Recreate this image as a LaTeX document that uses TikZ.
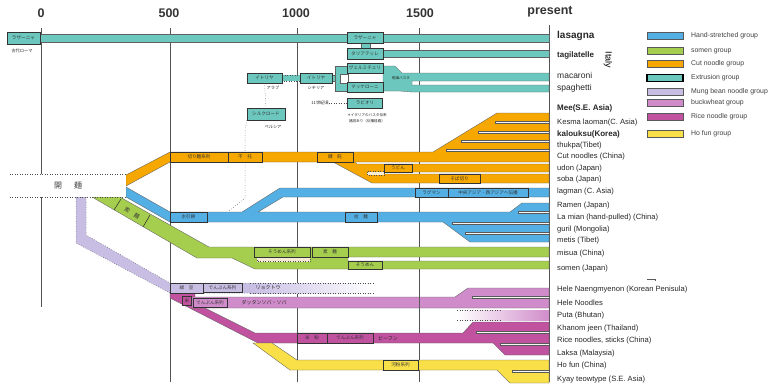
\documentclass[tikz,border=0pt]{standalone}
\usepackage{fontspec}
\setmainfont{Liberation Sans}
\newfontfamily\jp{Noto Sans CJK JP}
\definecolor{cteal}{RGB}{108,200,190}
\definecolor{cblue}{RGB}{84,176,228}
\definecolor{cgreen}{RGB}{166,206,78}
\definecolor{corange}{RGB}{246,168,0}
\definecolor{clav}{RGB}{200,190,228}
\definecolor{cbuck}{RGB}{208,140,202}
\definecolor{crice}{RGB}{192,82,160}
\definecolor{cyel}{RGB}{250,224,72}
\definecolor{cnotch}{RGB}{246,236,214}
\begin{document}
\begin{tikzpicture}[x=1pt,y=-1pt,
  bar/.style={draw=gray!75!black,line width=0.35pt},
  jb/.style={draw=gray!40!black,line width=0.4pt,inner sep=0pt,font=\jp\fontsize{4.6}{5}\selectfont,text=black!80},
  jt/.style={inner sep=0pt,font=\jp\fontsize{4.2}{4.6}\selectfont,text=gray!30!black},
  lab/.style={anchor=west,inner sep=0pt,font=\fontsize{7.6}{8}\selectfont,text=black!85},
  ax/.style={draw=gray!65!black,line width=0.9pt},
  axl/.style={font=\bfseries\fontsize{12.5}{13}\selectfont,inner sep=0pt,text=black!80},
  strip/.style={fill=white!93!gray,draw=gray!70!black,line width=0.3pt},
  dot/.style={draw=gray!60!black,dotted,line width=0.5pt},
  leg/.style={anchor=west,inner sep=0pt,font=\fontsize{6.9}{7}\selectfont,text=black!75},
  sw/.style={draw=gray!70!black,line width=0.5pt,minimum width=36pt,minimum height=7pt,inner sep=0pt},
]
\useasboundingbox (0,0) rectangle (775,384);
% axis
\node[axl] (a0) at (41,13) {0};
\node[axl] (a500) at (169,13) {500};
\node[axl] (a1000) at (296,13) {1000};
\node[axl] (a1500) at (420,13) {1500};
\node[axl] (apr) at (550,12) {present};
\draw[ax] (41,28) -- (41,307);
\draw[ax] (170,28) -- (170,382);
\draw[ax] (297,28) -- (297,382);
\draw[ax] (419,28) -- (419,382);
\draw[ax] (549,25) -- (549,382);

% ---------- extrusion (teal)
\draw[bar,fill=cteal] (40,34) rectangle (549,42);
\draw[bar,fill=cteal] (361,43) rectangle (370,48);
\draw[bar,fill=cteal] (383,50) rectangle (549,57);
\draw[dot,fill=cteal] (282,75) rectangle (300,81);
\draw[bar,fill=cteal] (332,75) rectangle (336,81);
\draw[bar,fill=cteal] (335,66) rectangle (348,91);
\draw[bar,fill=white] (340,74) rectangle (348,83);
\draw[bar,fill=cteal] (383,66) -- (395,66) -- (402,73) -- (549,73) -- (549,81) -- (412,81) -- (412,85) -- (549,85) -- (549,92) -- (412,92) -- (400,91) -- (383,91) -- cycle;
\node[jt,font=\jp\fontsize{3.6}{4}\selectfont] (kp) at (401,78) {乾燥パスタ};
\node[jb,fill=cteal,minimum width=33pt,minimum height=12pt] (lz0) at (23.5,38) {ラザーニャ};
\node[jt] (lzc) at (22,51) {古代ローマ};
\node[jb,fill=cteal,minimum width=36pt,minimum height=11pt] (lz1) at (365,37.5) {ラザーニャ};
\node[jb,fill=cteal,minimum width=36pt,minimum height=11pt] (tg) at (365,53.5) {タリアテッレ};
\node[jb,fill=cteal,minimum width=35pt,minimum height=10pt] (it1) at (264.5,78) {イトリヤ};
\node[jb,fill=cteal,minimum width=32pt,minimum height=10pt] (it2) at (316,78) {イトリヤ};
\node[jt] (it1c) at (273,88) {アラブ};
\node[jt] (it2c) at (316,88) {シチリア};
\node[jb,fill=cteal,minimum width=36pt,minimum height=10pt] (vm) at (365,68) {ヴェルミチェリ};
\node[jb,fill=cteal,minimum width=36pt,minimum height=10pt] (mc) at (365,87) {マッケローニ};
\node[jb,fill=cteal,minimum width=35pt,minimum height=10pt] (rv) at (365,103) {ラビオリ};
\node[jt] (c11) at (320,103) {11世紀頃};
\draw[dot] (c11.east) -- (rv.west);
\node[jt,font=\jp\fontsize{3.6}{4}\selectfont] (rvc1) at (367,115) {＊イタリアのパスタ伝来};
\node[jt,font=\jp\fontsize{3.6}{4}\selectfont] (rvc2) at (367,121) {諸説あり（伝播経路）};
\node[jb,fill=cteal,minimum width=38pt,minimum height=12pt] (sr) at (266,114) {シルクロード};
\node[jt] (src) at (273,127) {ペルシア};
\draw[dot] (it1.south) -- (sr.north);
\coordinate (d1) at (245,130);
\coordinate (d2) at (245,198);
\coordinate (d3) at (228,212);
\draw[dot] (sr.south west) -- (d1) -- (d2) -- (d3);

% ---------- cut noodle (orange)
\draw[bar,fill=corange] (333,162) -- (355,162) -- (357,164) -- (549,164) -- (549,172) -- (384,172) -- (384,174) -- (549,174) -- (549,183) -- (372,183) -- cycle;
\draw[bar,fill=corange] (126,175) -- (170,152) -- (433,152) -- (497,113) -- (549,113) -- (549,162) -- (170,162) -- (126,186) -- cycle;
\fill[corange] (335,160.6) rectangle (354,163.2);
\draw[dot,fill=cnotch] (367,171.5) rectangle (384,175);
\draw[strip] (495,121) rectangle (549,123);
\draw[strip] (478,131) rectangle (549,133);
\draw[strip] (461,140.5) rectangle (549,142.5);
\draw[strip] (446,149.5) rectangle (549,151.5);
\node[jb,fill=corange,minimum width=58pt,minimum height=10pt] (kr) at (199,157) {切り麺系列};
\node[jb,fill=corange,minimum width=34pt,minimum height=10pt] (ht) at (245,157) {不　托};
\node[jb,fill=corange,minimum width=36pt,minimum height=10pt] (bt) at (335,157) {餺　飥};
\node[jb,fill=corange,minimum width=28pt,minimum height=8pt] (ud) at (398,168) {うどん};
\node[jb,fill=corange,minimum width=41pt,minimum height=9pt] (sb) at (459.5,178.5) {そば切り};

% ---------- hand-stretched (blue)
\draw[bar,fill=cblue] (126,187) -- (170,212) -- (242,212) -- (280,188) -- (549,188) -- (549,197) -- (283,197) -- (258,212) -- (510,212) -- (522,203) -- (549,203) -- (549,242) -- (470,242) -- (443,222) -- (170,222) -- (126,197) -- cycle;
\draw[strip] (518,211) rectangle (549,213);
\draw[strip] (452,222.5) rectangle (549,224.5);
\draw[strip] (465,232.5) rectangle (549,234.5);
\node[jb,fill=cblue,minimum width=37pt,minimum height=10pt] (sy) at (188.5,217) {水引餅};
\node[jb,fill=cblue,minimum width=32pt,minimum height=10pt] (lm) at (361,217) {拉　麺};
\node[jb,fill=cblue,minimum width=33pt,minimum height=9pt] (lg) at (431.5,192.5) {ラグマン};
\node[jb,fill=cblue,minimum width=80pt,minimum height=9pt] (ca) at (488,192.5) {中央アジア・西アジアへ伝播};

% ---------- somen (green)
\draw[bar,fill=cgreen] (92,197) -- (120,197) -- (209,247) -- (549,247) -- (549,257) -- (348,257) -- (348,261) -- (549,261) -- (549,269) -- (255,269) -- (232,258) -- (197,258) -- cycle;
\draw[dot,fill=cnotch] (257,257) rectangle (310,261.5);
\draw[draw=gray!30!black,line width=0.5pt] (121,199) -- (114,210);
\draw[draw=gray!30!black,line width=0.5pt] (150,215) -- (143,227);
\node[inner sep=0pt,font=\jp\fontsize{5.5}{6}\selectfont,rotate=-30,text=black!80] (sk0) at (132,213) {索　麺};
\node[jb,fill=cgreen,minimum width=56pt,minimum height=10pt] (sk) at (282,252) {そうめん系列};
\node[jb,fill=cgreen,minimum width=36pt,minimum height=10pt] (sm) at (330,252) {素　麺};
\node[jb,fill=cgreen,minimum width=34pt,minimum height=8pt] (so) at (365,265) {そうめん};

% ---------- mung bean (lavender)
\draw[dot,fill=clav] (76,197) -- (86,197) -- (86,235) -- (170,283) -- (250,283) -- (250,293) -- (170,293) -- (76,243) -- cycle;
\shade[left color=clav,right color=white] (250,283) rectangle (373,293);
\draw[dot] (250,283) -- (373,283);
\draw[dot] (250,293) -- (373,293);

% ---------- rice (magenta)
\draw[bar,fill=crice] (170,293) -- (195,293) -- (195,308) -- (205,308) -- (255,333) -- (463,333) -- (473,322) -- (549,322) -- (549,355) -- (505,355) -- (493,343) -- (258,343) -- (170,298) -- cycle;
\draw[strip] (476,331) rectangle (549,333);
\draw[strip] (500,343) rectangle (549,345);

% ---------- buckwheat (pink)
\draw[bar,fill=cbuck] (192,297) -- (455,297) -- (468,288) -- (549,288) -- (549,308) -- (192,308) -- cycle;
\draw[gray!70!black,line width=0.4pt] (419,297) -- (419,308);
\draw[strip] (472,296) rectangle (549,298);
\shade[left color=white,right color=cbuck] (457,310) rectangle (549,320);
\draw[dot] (457,310) -- (500,310);
\draw[dot] (457,320) -- (500,320);

% ---------- ho fun (yellow)
\draw[bar,fill=cyel] (253,343) -- (272,343) -- (297,360) -- (549,360) -- (549,383) -- (510,383) -- (497,370) -- (290,370) -- cycle;
\draw[strip] (512,370.5) rectangle (549,372.5);

% boxes lower
\node[jb,fill=clav,minimum width=33pt,minimum height=10pt] (rd) at (186.5,288) {緑　豆};
\node[jb,fill=clav,minimum width=39pt,minimum height=9pt] (dp1) at (222.5,288) {でんぷん系列};
\node[jt,font=\jp\fontsize{5}{5}\selectfont] (rdt) at (268,288) {リョクトウ};
\node[jb,fill=crice,minimum width=9pt,minimum height=9pt] (km) at (187,300.5) {米};
\node[jb,fill=cbuck,minimum width=34pt,minimum height=9pt] (dp2) at (210,302.5) {でんぷん系列};
\node[jt,font=\jp\fontsize{5}{5}\selectfont] (dst) at (264,302.5) {ダッタンソバ・ソバ};
\node[jb,fill=crice,minimum width=30pt,minimum height=10pt] (bf) at (312,338) {米　粉};
\node[jb,fill=crice,minimum width=46pt,minimum height=10pt] (dp3) at (350,338) {でんぷん系列};
\node[jt,font=\jp\fontsize{5}{5}\selectfont] (bht) at (388,338) {ビーフン};
\node[jb,fill=cyel,minimum width=35pt,minimum height=10pt] (hf) at (400.5,365) {河粉系列};

% ancestor
\node[fill=white,minimum width=116pt,minimum height=23pt,inner sep=0pt,font=\jp\fontsize{8}{8}\selectfont,text=black!75] (anc) at (68,185.5) {開\hspace{12pt}麺};
\draw[dot] (anc.north west) -- (anc.north east);
\draw[dot] (anc.south west) -- (anc.south east);

% right labels
\node[lab,font=\bfseries\fontsize{10}{11}\selectfont] (l1) at (557,36) {lasagna};
\node[lab,font=\bfseries\fontsize{8}{9}\selectfont] (l2) at (557,55) {tagilatelle};
\node[lab,font=\fontsize{8.5}{9}\selectfont] (l3) at (557,75) {macaroni};
\node[lab,font=\fontsize{8.5}{9}\selectfont] (l4) at (557,88) {spaghetti};
\node[font=\fontsize{9}{9}\selectfont,rotate=-90,inner sep=0pt] (italy) at (608,60) {Italy};
\node[lab,font=\bfseries\fontsize{8}{9}\selectfont] (l5) at (557,108) {Mee(S.E. Asia)};
\node[lab] (l6) at (557,123) {Kesma laoman(C. Asia)};
\node[lab,font=\bfseries\fontsize{8}{9}\selectfont] (l7) at (557,134) {kalouksu(Korea)};
\node[lab] (l8) at (557,146) {thukpa(Tibet)};
\node[lab] (l9) at (557,157) {Cut noodles (China)};
\node[lab] (l10) at (557,169) {udon (Japan)};
\node[lab] (l11) at (557,180) {soba (Japan)};
\node[lab] (l12) at (557,192) {lagman (C. Asia)};
\node[lab] (l13) at (557,206) {Ramen (Japan)};
\node[lab] (l14) at (557,218) {La mian (hand-pulled) (China)};
\node[lab] (l15) at (557,230) {guril (Mongolia)};
\node[lab] (l16) at (557,241) {metis (Tibet)};
\node[lab] (l17) at (557,254) {misua (China)};
\node[lab] (l18) at (557,269) {somen (Japan)};
\node[lab] (l19) at (557,290) {Hele Naengmyenon (Korean Penisula)};
\node[lab] (l20) at (557,303) {Hele Noodles};
\node[lab] (l21) at (557,316) {Puta (Bhutan)};
\node[lab] (l22) at (557,329) {Khanom jeen (Thailand)};
\node[lab] (l23) at (557,341) {Rice noodles, sticks (China)};
\node[lab] (l24) at (557,354) {Laksa (Malaysia)};
\node[lab] (l25) at (557,366) {Ho fun (China)};
\node[lab] (l26) at (557,380) {Kyay teowtype (S.E. Asia)};
\draw[gray!70!black,line width=0.4pt] (647,279) -- (655,279) -- (655,281);

% legend
\node[sw,fill=cblue] (s1) at (665,36) {};
\node[leg] (t1) at (691,36) {Hand-stretched group};
\node[sw,fill=cgreen] (s2) at (665,51) {};
\node[leg] (t2) at (691,51) {somen group};
\node[sw,fill=corange] (s3) at (665,64) {};
\node[leg] (t3) at (691,64) {Cut noodle group};
\node[sw,fill=cteal,draw=black,line width=1.2pt] (s4) at (665,78) {};
\node[leg] (t4) at (691,78) {Extrusion group};
\node[sw,fill=clav] (s5) at (665,92) {};
\node[leg] (t5) at (691,92) {Mung bean noodle group};
\node[sw,fill=cbuck] (s6) at (665,103) {};
\node[leg] (t6) at (691,103) {buckwheat group};
\node[sw,fill=crice] (s7) at (665,117) {};
\node[leg] (t7) at (691,117) {Rice noodle group};
\node[sw,fill=cyel] (s8) at (665,134) {};
\node[leg] (t8) at (691,134) {Ho fun group};
\end{tikzpicture}
\end{document}
